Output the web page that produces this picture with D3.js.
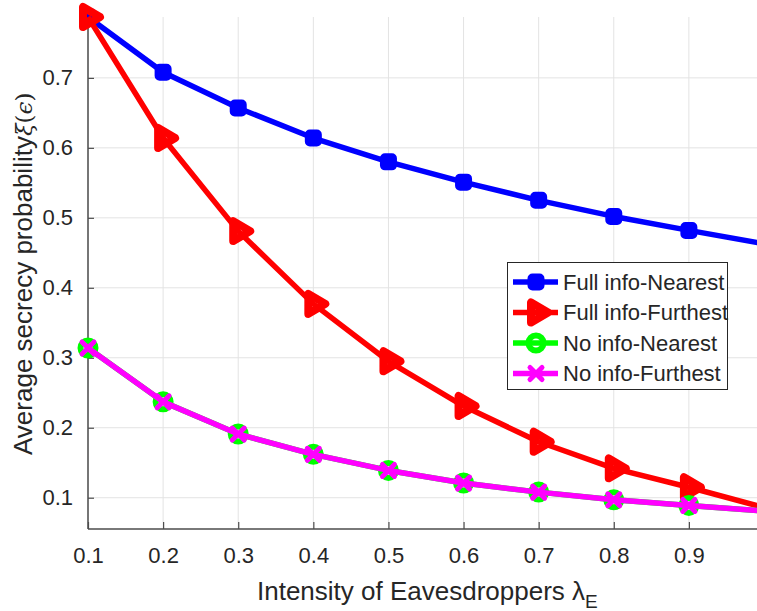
<!DOCTYPE html>
<html><head><meta charset="utf-8">
<script src="https://cdn.jsdelivr.net/npm/d3@7"></script>
<style>body{margin:0;background:#fff}svg{display:block}text{font-family:"Liberation Sans",Arial,sans-serif;fill:#262626}</style>
</head><body><svg id="c" width="757" height="611"></svg>
<script>
const xValues = [0.1,0.2,0.3,0.4,0.5,0.6,0.7,0.8,0.9,1.0];
const fullNearest = [0.787,0.708,0.657,0.614,0.580,0.551,0.525,0.502,0.482,0.463];
const fullFurthest = [0.787,0.614,0.481,0.377,0.295,0.231,0.180,0.142,0.115,0.086];
const noNearest = [0.314,0.237,0.191,0.162,0.139,0.121,0.108,0.097,0.089,0.081];
const noFurthest = [0.314,0.237,0.191,0.162,0.139,0.121,0.108,0.097,0.089,0.081];
const xTicks = [0.1,0.2,0.3,0.4,0.5,0.6,0.7,0.8,0.9];
const yTicks = [0.1,0.2,0.3,0.4,0.5,0.6,0.7];
const seriesNames = ["Full info-Nearest","Full info-Furthest","No info-Nearest","No info-Furthest"];
const seriesColors = ["#0000ff","#ff0000","#00ff00","#ff00ff"];
const seriesMarkers = ["square","triangle","circle","cross"];
const seriesData = [fullNearest, fullFurthest, noNearest, noFurthest];

const svg = d3.select("#c");
const L = 88, R = 764, T = 17, B = 529, W = 757;
const x = d3.scaleLinear().domain([0.1,1.0]).range([L,R]);
const y = d3.scaleLinear().domain([0.0553,0.787]).range([B,T]);

svg.append("defs").append("clipPath").attr("id","clip").append("rect")
  .attr("x",L-20).attr("y",T-20).attr("width",R-L+40).attr("height",B-T+20);

// grid
const g = svg.append("g");
g.selectAll(".gx").data(xTicks).join("line")
  .attr("x1",d=>x(d)).attr("x2",d=>x(d)).attr("y1",T).attr("y2",B)
  .attr("stroke","#e3e3e3").attr("stroke-width",1);
g.selectAll(".gy").data(yTicks).join("line")
  .attr("x1",L).attr("x2",W).attr("y1",d=>y(d)).attr("y2",d=>y(d))
  .attr("stroke","#e3e3e3").attr("stroke-width",1);

// axes
const xAxis = d3.axisBottom(x).tickValues(xTicks).tickSizeInner(-7).tickSizeOuter(0).tickPadding(18).tickFormat(d3.format(".1f"));
const ya = d3.axisLeft(y).tickValues(yTicks).tickSizeInner(-6).tickSizeOuter(0).tickPadding(15).tickFormat(d3.format(".1f"));
const gx = svg.append("g").attr("transform",`translate(0,${B})`).call(xAxis);
const gy = svg.append("g").attr("transform",`translate(${L},0)`).call(ya);
[gx,gy].forEach(a=>{
  a.select(".domain").attr("stroke","#4d4d4d").attr("stroke-width",1.5);
  a.selectAll(".tick line").attr("stroke","#4d4d4d").attr("stroke-width",1.2);
  a.selectAll(".tick text").style("font-family",'"Liberation Sans",Arial,sans-serif').style("font-size","22px").attr("fill","#262626");
});
gx.select(".domain").attr("d",`M${L},0H${W}`);
gy.select(".domain").attr("d",`M0,${T}V${B}`);
gx.selectAll(".tick text").attr("dy","0.72em");

function drawMarker(sel, type, color){
  if(type==="square"){
    sel.append("rect").attr("x",-6).attr("y",-6).attr("width",12).attr("height",12).attr("rx",2.5)
      .attr("fill",color).attr("stroke",color).attr("stroke-width",5).attr("stroke-linejoin","round");
  } else if(type==="triangle"){
    sel.append("path").attr("d","M-5,-10L-5,10L12,0Z")
      .attr("fill","none").attr("stroke",color).attr("stroke-width",8).attr("stroke-linejoin","round");
  } else if(type==="circle"){
    sel.append("circle").attr("r",7.5).attr("fill","none").attr("stroke",color).attr("stroke-width",6);
  } else {
    sel.append("path").attr("d","M-6,-6L6,6M-6,6L6,-6")
      .attr("stroke",color).attr("stroke-width",5).attr("stroke-linecap","round");
  }
}

const plot = svg.append("g").attr("clip-path","url(#clip)");
const line = d3.line().x((d,i)=>x(xValues[i])).y(d=>y(d));
seriesData.forEach((data,k)=>{
  plot.append("path").datum(data).attr("d",line).attr("fill","none")
    .attr("stroke",seriesColors[k]).attr("stroke-width",5.5).attr("stroke-linejoin","round");
  data.forEach((v,i)=>{
    if (x(xValues[i]) > W) return; // marker lies outside the visible figure
    const m = plot.append("g").attr("transform",`translate(${x(xValues[i])},${y(v)})`);
    drawMarker(m, seriesMarkers[k], seriesColors[k]);
  });
});

// legend
const lg = svg.append("g");
lg.append("rect").attr("x",507.5).attr("y",262.5).attr("width",220).attr("height",127)
  .attr("fill","#fff").attr("stroke","#262626").attr("stroke-width",1);
seriesNames.forEach((n,k)=>{
  const yy = 282 + k*30.5;
  lg.append("line").attr("x1",513).attr("x2",558).attr("y1",yy).attr("y2",yy)
    .attr("stroke",seriesColors[k]).attr("stroke-width",5.5);
  const m = lg.append("g").attr("transform",`translate(536,${yy})`);
  drawMarker(m, seriesMarkers[k], seriesColors[k]);
  lg.append("text").attr("x",563).attr("y",yy).attr("dy","0.36em")
    .style("font-size","22px").text(n);
});

// axis labels
const xl = svg.append("text").attr("x",257).attr("y",600).style("font-size","26px");
xl.append("tspan").text("Intensity of Eavesdroppers ");
xl.append("tspan").text("λ");
xl.append("tspan").attr("dy",8).style("font-size","19px").text("E");

const yl = svg.append("text").attr("transform","translate(32,455) rotate(-90)").style("font-size","26px");
yl.append("tspan").text("Average secrecy probability");
yl.append("tspan").style("font-family","'DejaVu Serif',serif").style("font-style","italic").style("font-size","23px").text("ξ");
yl.append("tspan").style("font-family","'DejaVu Serif',serif").style("font-size","23px").text("(");
yl.append("tspan").style("font-family","'DejaVu Serif',serif").style("font-style","italic").style("font-size","23px").text("ϵ");
yl.append("tspan").style("font-family","'DejaVu Serif',serif").style("font-size","23px").text(")");
</script></body></html>
